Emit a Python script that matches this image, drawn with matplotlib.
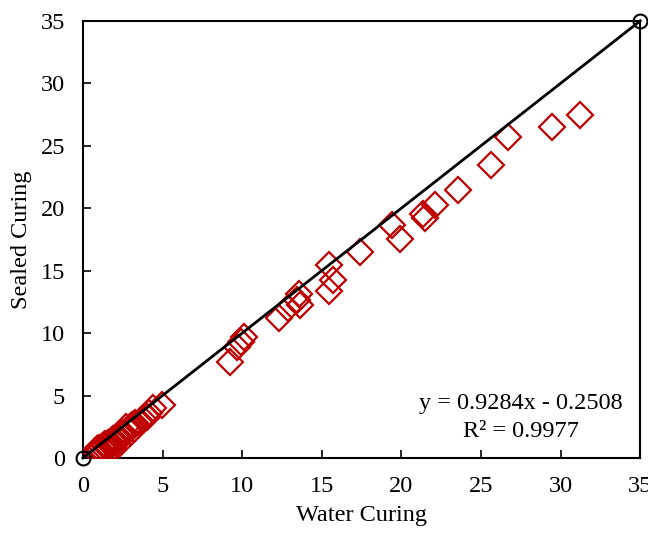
import matplotlib.pyplot as plt

# compressive strength pairs (MPa): water cured vs sealed cured
water = [0.8, 0.9, 1.0, 1.1, 1.2, 1.3, 1.4, 1.5, 1.6, 1.7, 1.8, 1.9, 1.9, 2.0,
         2.1, 2.2, 2.2, 2.3, 2.4, 2.5, 2.6, 2.7, 2.8, 2.9, 3.0, 3.1, 3.2, 3.3,
         3.5, 3.75, 4.04, 4.17, 4.42, 4.95,
         9.24, 9.66, 9.91, 10.12, 12.34, 12.9, 13.43, 13.6, 13.64, 15.48,
         15.73, 15.48, 17.37, 19.4, 19.9, 21.35, 21.5, 22.1, 23.55, 25.6,
         26.67, 29.45, 31.24]
sealed = [0.5, 0.7, 0.8, 0.6, 0.9, 1.0, 1.1, 0.9, 1.2, 1.3, 1.1, 1.5, 0.9, 1.4,
          1.2, 1.7, 1.0, 1.6, 1.9, 2.0, 1.8, 2.5, 2.2, 2.4, 2.1, 2.6, 2.3, 2.8,
          2.9, 3.1, 3.26, 3.58, 3.98, 4.25,
          7.7, 8.9, 9.3, 9.7, 11.2, 12.0, 12.65, 13.1, 12.25, 15.45,
          14.25, 13.4, 16.47, 18.65, 17.5, 19.5, 19.2, 20.25, 21.45, 23.45,
          25.7, 26.5, 27.5]

line_x = [0, 35]
line_y = [0, 35]
ticks = [0, 5, 10, 15, 20, 25, 30, 35]

plt.rcParams['font.family'] = ['Liberation Serif', 'DejaVu Serif']

fig = plt.figure(figsize=(6.48, 5.35), dpi=100)
ax = fig.add_axes([0.128, 0.144, 0.86, 0.817])

ax.plot(water, sealed, linestyle='none', marker='D', markersize=13,
        markerfacecolor='none', markeredgecolor='#C00000', markeredgewidth=1.6,
        zorder=3)
ax.plot(line_x, line_y, color='black', linewidth=2, marker='o', markersize=10,
        markerfacecolor='none', markeredgecolor='black', markeredgewidth=1.5,
        clip_on=False, zorder=4)

ax.set_xlim(0, 35)
ax.set_ylim(0, 35)
ax.set_xticks(ticks)
ax.set_yticks(ticks)
ax.tick_params(direction='in', length=6, width=1.2, labelsize=17.5, pad=13)
for s in ax.spines.values():
    s.set_linewidth(1.5)

ax.set_xlabel('Water Curing', fontsize=17.5, labelpad=6)
ax.set_ylabel('Sealed Curing', fontsize=17.5, labelpad=6)

ax.text(27.5, 4.4, 'y = 0.9284x - 0.2508', ha='center', va='center', fontsize=17.5)
ax.text(27.5, 2.1, 'R² = 0.9977', ha='center', va='center', fontsize=17.5)

fig.savefig('out.png', dpi=100)
